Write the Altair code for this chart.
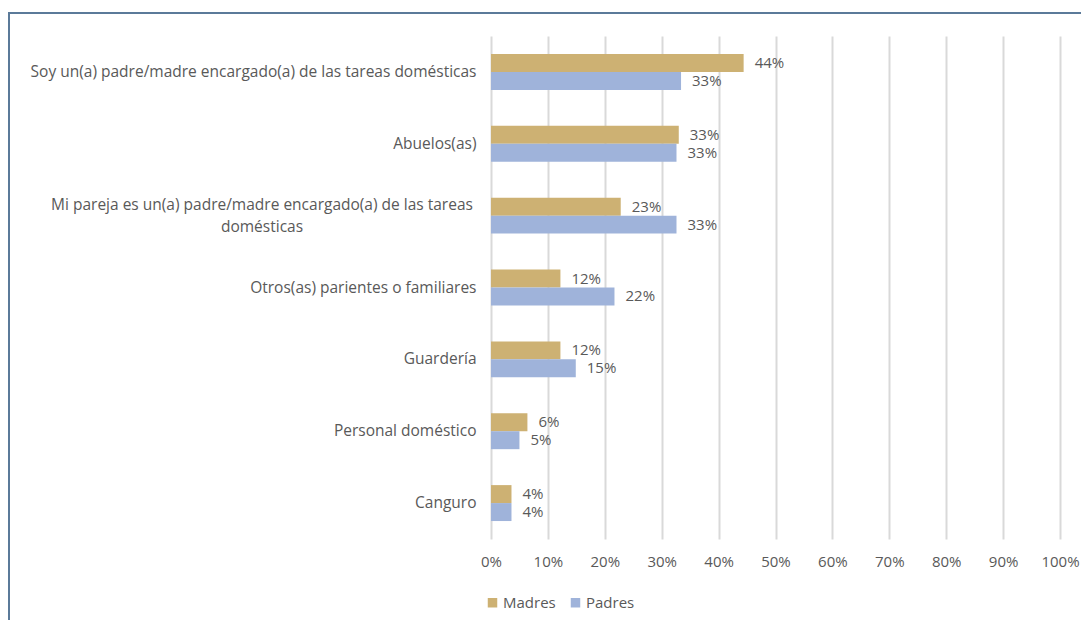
import altair as alt
import pandas as pd

categories = [
    "Soy un(a) padre/madre encargado(a) de las tareas domésticas",
    "Abuelos(as)",
    "Mi pareja es un(a) padre/madre encargado(a) de las tareas domésticas",
    "Otros(as) parientes o familiares",
    "Guardería",
    "Personal doméstico",
    "Canguro",
]
madres = [44.4, 33.0, 22.8, 12.2, 12.2, 6.4, 3.6]
padres = [33.4, 32.6, 32.6, 21.7, 14.9, 5.0, 3.6]
series = ["Madres", "Padres"]
colors = ["#CDB173", "#9FB3DA"]
x_ticks = [i / 10 for i in range(11)]
wrap_lines = "Mi pareja es un(a) padre/madre encargado(a) de las tareas\ndomésticas"

rows = []
for c, m, p in zip(categories, madres, padres):
    rows.append({"cat": c, "grupo": "Madres", "v": m / 100})
    rows.append({"cat": c, "grupo": "Padres", "v": p / 100})
df = pd.DataFrame(rows)
wrap_df = pd.DataFrame({"cat": [categories[2]], "t": [wrap_lines]})

FONT = "Open Sans"
GRAY = "#595959"
label_expr = f"datum.value == '{categories[2]}' ? '' : datum.value"

y_enc = alt.Y(
    "cat:N",
    sort=categories,
    scale=alt.Scale(paddingInner=0.5, paddingOuter=0.25),
    axis=alt.Axis(
        title=None, domain=False, ticks=False, labelPadding=15,
        labelFontSize=15.5, labelColor=GRAY, labelFont=FONT, labelLimit=600,
        labelExpr=label_expr,
    ),
)
yoff = alt.YOffset("grupo:N", sort=series)

bars = alt.Chart(df).mark_bar().encode(
    x=alt.X(
        "v:Q",
        scale=alt.Scale(domain=[0, 1], nice=False),
        axis=alt.Axis(
            title=None, values=x_ticks, format=".0%", grid=True,
            gridColor="#D9D9D9", gridWidth=2, domain=False, ticks=False,
            labelFlush=False, labelOverlap=False,
            labelPadding=15, labelFontSize=15, labelColor=GRAY, labelFont=FONT,
        ),
    ),
    y=y_enc,
    yOffset=yoff,
    color=alt.Color(
        "grupo:N",
        sort=series,
        scale=alt.Scale(domain=series, range=colors),
        legend=alt.Legend(
            title=None, orient="none", legendX=-6, legendY=559,
            direction="horizontal", symbolType="square", symbolSize=90,
            symbolStrokeWidth=0, labelFontSize=15, labelColor=GRAY,
            labelFont=FONT, columnPadding=12, labelOffset=3,
        ),
    ),
)

texts = alt.Chart(df).mark_text(
    align="left", baseline="middle", dx=11, fontSize=15, color=GRAY, font=FONT
).encode(
    x="v:Q",
    y=alt.Y("cat:N", sort=categories),
    yOffset=yoff,
    text=alt.Text("v:Q", format=".0%"),
)

wrap_text = alt.Chart(wrap_df).mark_text(
    align="center", baseline="middle", lineBreak="\n", lineHeight=22, dy=-11,
    fontSize=15.5, color=GRAY, font=FONT
).encode(
    x=alt.value(-229),
    y=alt.Y("cat:N", sort=categories),
    text="t:N",
)

border_top = alt.Chart(df).mark_rule(color="#5B7A99", strokeWidth=2).encode(
    x=alt.value(-482), x2=alt.value(600), y=alt.value(-23)
)
border_left = alt.Chart(df).mark_rule(color="#5B7A99", strokeWidth=2).encode(
    x=alt.value(-482), y=alt.value(-24), y2=alt.value(600)
)

chart = alt.layer(bars, texts, wrap_text, border_top, border_left).properties(
    width=569,
    height=503,
    autosize=alt.AutoSizeParams(type="none"),
    padding={"left": 483, "top": 28, "right": 21, "bottom": 81},
    background="white",
).configure_view(stroke=None)

chart.save("out.html", embed_options={"renderer": "svg", "actions": False})
